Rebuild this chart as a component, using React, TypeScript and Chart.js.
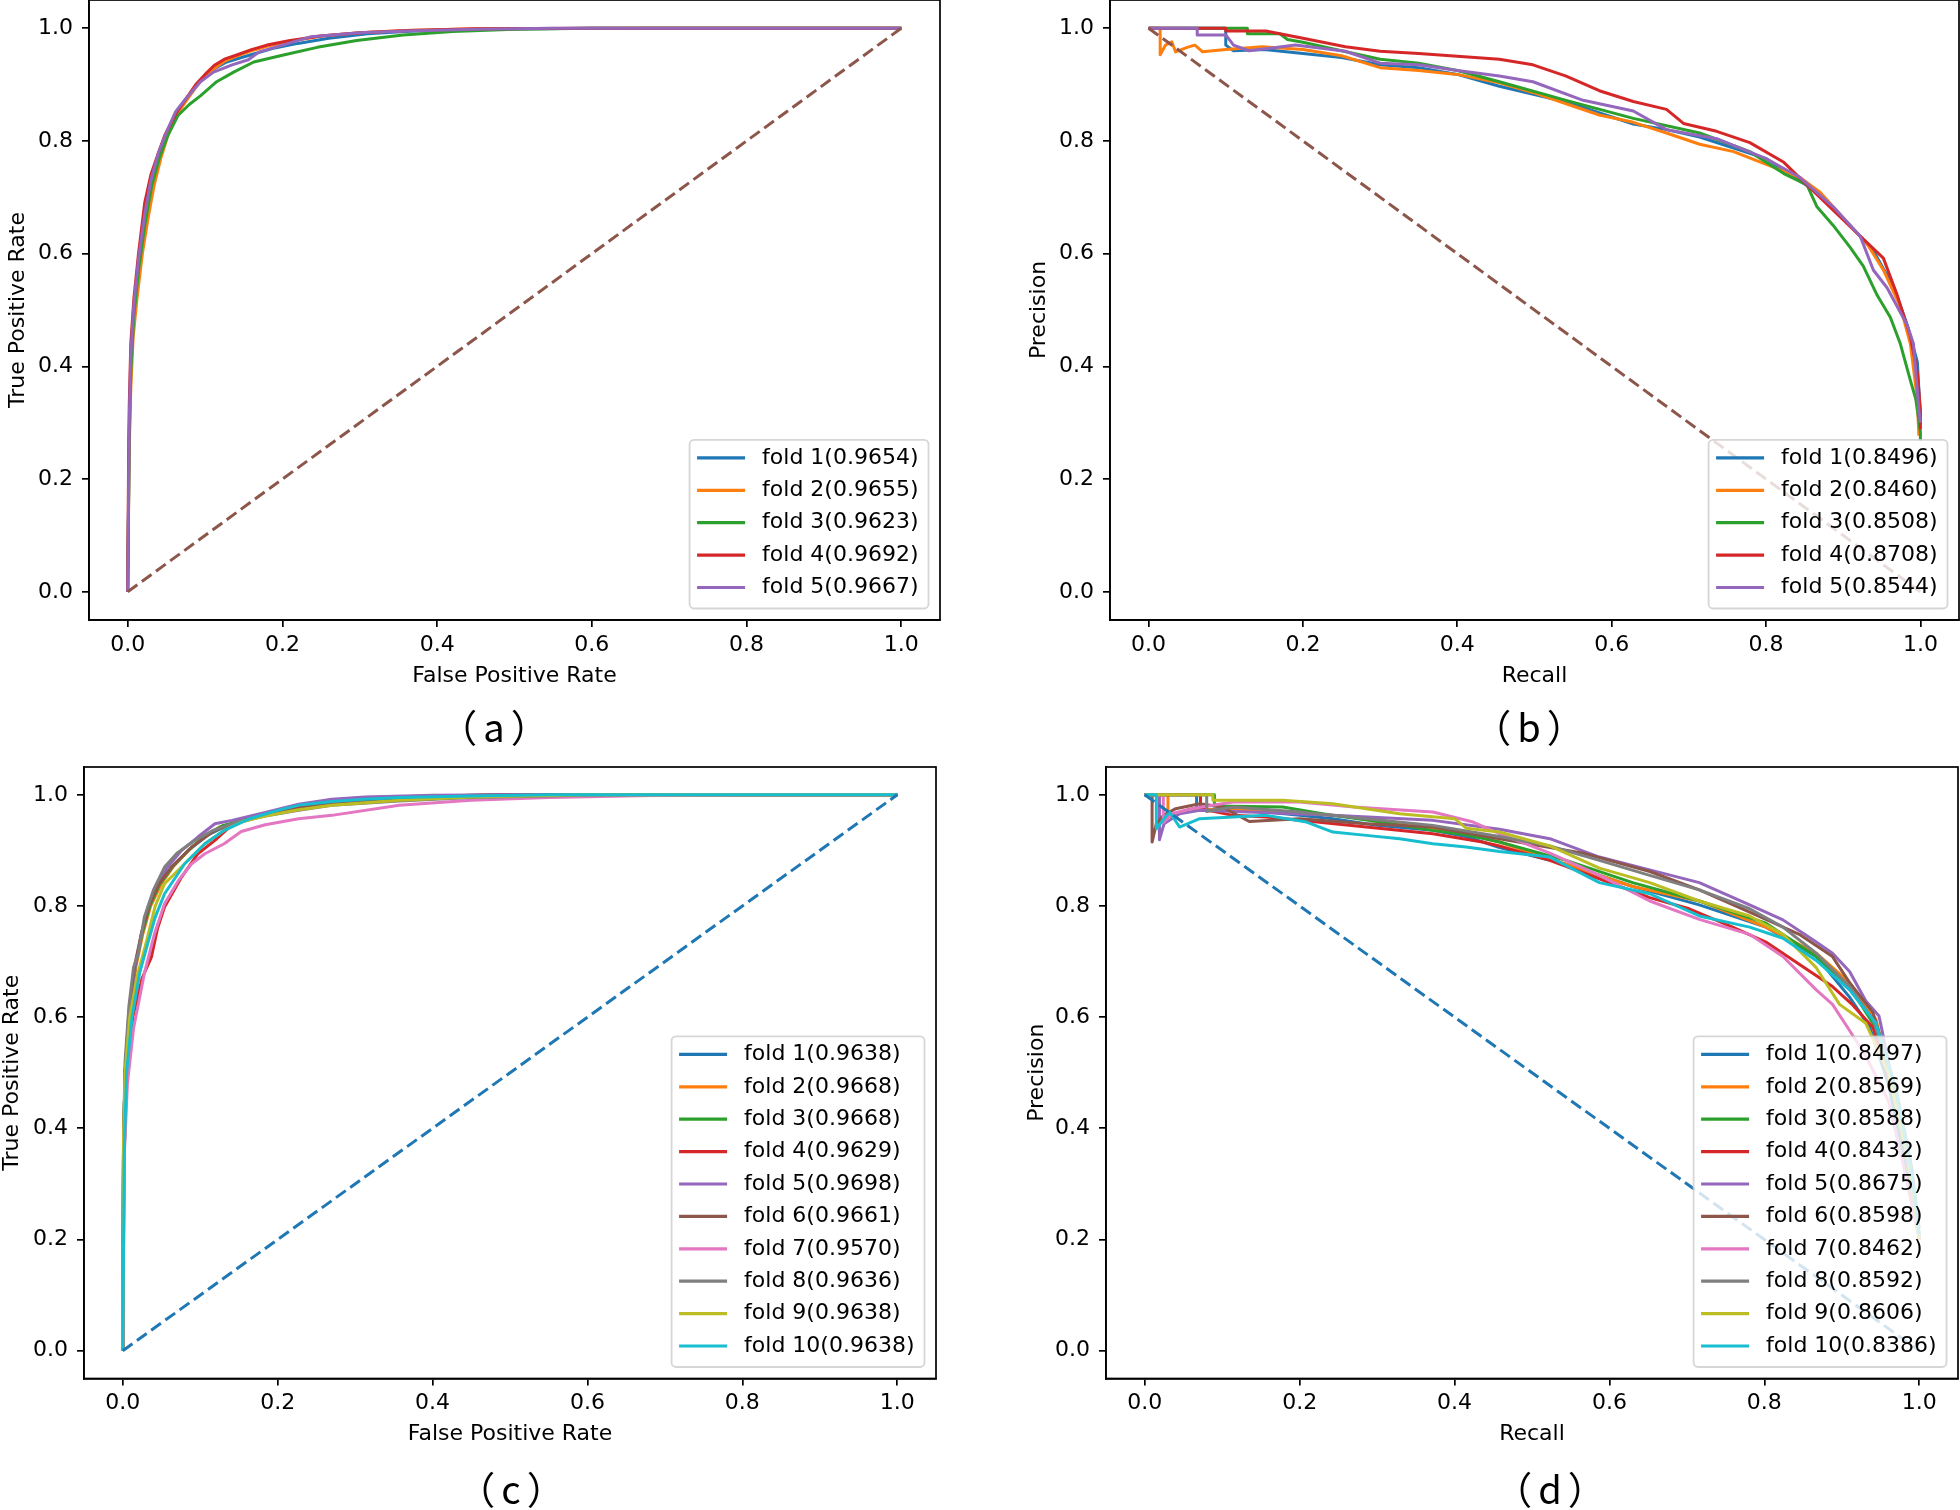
import React, { useEffect, useRef } from 'react';
import { Chart, registerables } from 'chart.js';

Chart.register(...registerables);

const TAB10 = ['#1f77b4', '#ff7f0e', '#2ca02c', '#d62728', '#9467bd', '#8c564b', '#e377c2', '#7f7f7f', '#bcbd22', '#17becf'];
const AXIS_TICKS = [0, 0.2, 0.4, 0.6, 0.8, 1.0];

// ---------- (a) ROC, 5 folds ----------
const labelsA = ['fold 1(0.9654)', 'fold 2(0.9655)', 'fold 3(0.9623)', 'fold 4(0.9692)', 'fold 5(0.9667)'];
const rocA1 = [[0,0],[0.002,0.28],[0.004,0.4],[0.008,0.5],[0.014,0.58],[0.021,0.66],[0.03,0.73],[0.04,0.775],[0.05,0.81],[0.063,0.848],[0.075,0.872],[0.088,0.896],[0.1,0.915],[0.112,0.928],[0.128,0.94],[0.145,0.947],[0.165,0.955],[0.19,0.965],[0.22,0.973],[0.26,0.982],[0.31,0.99],[0.37,0.995],[0.45,0.998],[0.6,1],[1,1]];
const rocA2 = [[0,0],[0.002,0.25],[0.004,0.36],[0.007,0.45],[0.012,0.52],[0.019,0.6],[0.026,0.66],[0.034,0.72],[0.043,0.77],[0.052,0.81],[0.064,0.848],[0.076,0.872],[0.088,0.895],[0.1,0.915],[0.113,0.93],[0.126,0.942],[0.14,0.95],[0.16,0.96],[0.18,0.968],[0.21,0.977],[0.25,0.986],[0.3,0.992],[0.36,0.996],[0.45,0.999],[0.66,1],[1,1]];
const rocA3 = [[0,0],[0.002,0.27],[0.004,0.39],[0.008,0.49],[0.014,0.57],[0.022,0.65],[0.031,0.72],[0.041,0.77],[0.052,0.81],[0.065,0.845],[0.08,0.865],[0.094,0.88],[0.115,0.905],[0.137,0.922],[0.163,0.94],[0.2,0.952],[0.245,0.966],[0.296,0.978],[0.356,0.988],[0.42,0.994],[0.5,0.998],[0.6,1],[1,1]];
const rocA4 = [[0,0],[0.001,0.2],[0.002,0.33],[0.004,0.44],[0.008,0.52],[0.014,0.6],[0.022,0.69],[0.03,0.74],[0.04,0.78],[0.048,0.81],[0.063,0.85],[0.075,0.874],[0.088,0.9],[0.1,0.918],[0.112,0.934],[0.125,0.945],[0.14,0.952],[0.16,0.962],[0.18,0.97],[0.21,0.978],[0.25,0.986],[0.3,0.992],[0.36,0.996],[0.45,0.999],[0.6,1],[1,1]];
const rocA5 = [[0,0],[0.002,0.3],[0.004,0.42],[0.008,0.51],[0.014,0.59],[0.022,0.67],[0.03,0.73],[0.04,0.78],[0.05,0.815],[0.062,0.852],[0.074,0.873],[0.094,0.905],[0.111,0.922],[0.135,0.935],[0.156,0.944],[0.17,0.958],[0.2,0.97],[0.237,0.985],[0.3,0.992],[0.36,0.995],[0.45,0.998],[0.55,1],[1,1]];

// ---------- (b) PR, 5 folds ----------
const labelsB = ['fold 1(0.8496)', 'fold 2(0.8460)', 'fold 3(0.8508)', 'fold 4(0.8708)', 'fold 5(0.8544)'];
const prB1 = [[0,1],[0.1,1],[0.1,0.97],[0.11,0.96],[0.15,0.962],[0.2,0.955],[0.25,0.948],[0.3,0.935],[0.35,0.93],[0.4,0.918],[0.4545,0.897],[0.541,0.869],[0.628,0.83],[0.671,0.82],[0.714,0.807],[0.801,0.768],[0.866,0.709],[0.909,0.65],[0.939,0.605],[0.966,0.539],[0.983,0.473],[0.996,0.408],[1.0,0.31],[1.0,0.3]];
const prB2 = [[0,1],[0.015,1],[0.015,0.953],[0.022,0.97],[0.03,0.976],[0.035,0.958],[0.05,0.966],[0.06,0.97],[0.07,0.958],[0.1,0.962],[0.147,0.967],[0.2,0.962],[0.25,0.951],[0.3,0.93],[0.35,0.925],[0.4,0.918],[0.4545,0.903],[0.498,0.886],[0.541,0.866],[0.584,0.846],[0.628,0.833],[0.671,0.814],[0.714,0.794],[0.758,0.781],[0.801,0.758],[0.844,0.735],[0.87,0.709],[0.909,0.65],[0.931,0.617],[0.952,0.571],[0.974,0.506],[0.987,0.44],[0.996,0.342],[0.998,0.277]];
const prB3 = [[0,1],[0.128,1],[0.128,0.99],[0.17,0.99],[0.18,0.98],[0.2,0.975],[0.25,0.96],[0.3,0.945],[0.35,0.938],[0.4,0.925],[0.4545,0.905],[0.541,0.872],[0.628,0.84],[0.714,0.814],[0.779,0.781],[0.823,0.742],[0.853,0.722],[0.866,0.683],[0.887,0.65],[0.909,0.611],[0.926,0.578],[0.944,0.526],[0.961,0.487],[0.974,0.44],[0.987,0.375],[0.994,0.342],[1.0,0.284],[1.0,0.27]];
const prB4 = [[0,1],[0.1,1],[0.1,0.995],[0.152,0.995],[0.17,0.99],[0.2,0.982],[0.255,0.967],[0.3,0.959],[0.35,0.955],[0.4,0.95],[0.4545,0.945],[0.498,0.935],[0.541,0.915],[0.584,0.889],[0.628,0.87],[0.671,0.856],[0.693,0.831],[0.736,0.817],[0.779,0.797],[0.823,0.762],[0.853,0.722],[0.887,0.677],[0.922,0.631],[0.952,0.592],[0.97,0.526],[0.987,0.454],[0.996,0.389],[1.0,0.323],[1.0,0.29]];
const prB5 = [[0,1],[0.063,1],[0.063,0.988],[0.1,0.988],[0.11,0.97],[0.13,0.96],[0.16,0.965],[0.19,0.97],[0.255,0.959],[0.3,0.938],[0.35,0.935],[0.4,0.925],[0.4545,0.915],[0.498,0.905],[0.563,0.872],[0.628,0.853],[0.671,0.82],[0.736,0.804],[0.801,0.768],[0.844,0.735],[0.887,0.683],[0.922,0.631],[0.939,0.571],[0.957,0.539],[0.983,0.473],[0.991,0.44],[0.998,0.323],[1.0,0.3]];

// ---------- (c) ROC, 10 folds ----------
const labelsC = ['fold 1(0.9638)', 'fold 2(0.9668)', 'fold 3(0.9668)', 'fold 4(0.9629)', 'fold 5(0.9698)', 'fold 6(0.9661)', 'fold 7(0.9570)', 'fold 8(0.9636)', 'fold 9(0.9638)', 'fold 10(0.9638)'];
const rocC1 = [[0,0],[0.001,0.37],[0.003,0.5],[0.008,0.6],[0.016,0.69],[0.025,0.75],[0.035,0.8],[0.048,0.84],[0.063,0.87],[0.085,0.9],[0.11,0.928],[0.14,0.948],[0.184,0.965],[0.227,0.978],[0.27,0.988],[0.313,0.994],[0.4,0.998],[0.5,1],[1,1]];
const rocC2 = [[0,0],[0.001,0.36],[0.003,0.5],[0.009,0.6],[0.017,0.69],[0.026,0.75],[0.036,0.8],[0.05,0.84],[0.066,0.872],[0.085,0.9],[0.105,0.925],[0.125,0.942],[0.15,0.952],[0.184,0.966],[0.227,0.98],[0.27,0.99],[0.313,0.995],[0.4,0.998],[0.5,1],[1,1]];
const rocC3 = [[0,0],[0.001,0.37],[0.003,0.5],[0.008,0.6],[0.016,0.69],[0.025,0.75],[0.035,0.8],[0.048,0.84],[0.064,0.87],[0.086,0.902],[0.108,0.928],[0.13,0.945],[0.16,0.955],[0.2,0.97],[0.25,0.985],[0.3,0.993],[0.4,0.998],[0.5,1],[1,1]];
const rocC4 = [[0,0],[0.002,0.36],[0.005,0.49],[0.013,0.6],[0.025,0.67],[0.037,0.708],[0.045,0.76],[0.054,0.798],[0.076,0.852],[0.097,0.894],[0.119,0.918],[0.141,0.946],[0.184,0.966],[0.227,0.978],[0.27,0.988],[0.313,0.994],[0.4,0.998],[0.5,1],[1,1]];
const rocC5 = [[0,0],[0.001,0.36],[0.003,0.5],[0.008,0.6],[0.016,0.69],[0.024,0.75],[0.033,0.8],[0.045,0.84],[0.058,0.87],[0.076,0.9],[0.097,0.924],[0.119,0.948],[0.141,0.954],[0.184,0.968],[0.227,0.983],[0.27,0.992],[0.313,0.996],[0.4,0.999],[0.5,1],[1,1]];
const rocC6 = [[0,0],[0.001,0.37],[0.003,0.5],[0.008,0.61],[0.015,0.69],[0.024,0.75],[0.034,0.8],[0.047,0.84],[0.063,0.87],[0.089,0.906],[0.119,0.936],[0.15,0.95],[0.184,0.963],[0.227,0.975],[0.27,0.984],[0.35,0.992],[0.45,0.997],[0.6,1],[1,1]];
const rocC7 = [[0,0],[0.002,0.35],[0.006,0.48],[0.014,0.58],[0.028,0.679],[0.041,0.75],[0.054,0.804],[0.072,0.846],[0.089,0.876],[0.106,0.894],[0.131,0.912],[0.153,0.934],[0.184,0.946],[0.227,0.957],[0.27,0.963],[0.357,0.981],[0.45,0.99],[0.55,0.995],[0.7,0.999],[0.8,1],[1,1]];
const rocC8 = [[0,0],[0.001,0.38],[0.003,0.52],[0.008,0.62],[0.014,0.69],[0.02,0.714],[0.028,0.78],[0.04,0.83],[0.054,0.87],[0.07,0.895],[0.09,0.915],[0.115,0.935],[0.15,0.952],[0.184,0.962],[0.227,0.972],[0.27,0.981],[0.357,0.989],[0.45,0.995],[0.6,0.999],[0.7,1],[1,1]];
const rocC9 = [[0,0],[0.001,0.38],[0.003,0.5],[0.009,0.6],[0.018,0.67],[0.031,0.738],[0.042,0.8],[0.054,0.84],[0.08,0.876],[0.106,0.912],[0.131,0.936],[0.155,0.952],[0.184,0.962],[0.227,0.973],[0.27,0.981],[0.357,0.99],[0.45,0.996],[0.6,1],[1,1]];
const rocC10 = [[0,0],[0.002,0.36],[0.005,0.5],[0.012,0.6],[0.022,0.68],[0.031,0.726],[0.042,0.78],[0.054,0.822],[0.08,0.876],[0.106,0.912],[0.131,0.936],[0.164,0.957],[0.2,0.972],[0.227,0.981],[0.27,0.988],[0.313,0.992],[0.357,0.995],[0.45,0.998],[0.55,1],[1,1]];

// ---------- (d) PR, 10 folds ----------
const labelsD = ['fold 1(0.8497)', 'fold 2(0.8569)', 'fold 3(0.8588)', 'fold 4(0.8432)', 'fold 5(0.8675)', 'fold 6(0.8598)', 'fold 7(0.8462)', 'fold 8(0.8592)', 'fold 9(0.8606)', 'fold 10(0.8386)'];
const prD1 = [[0,1],[0.067,1],[0.067,0.972],[0.1,0.975],[0.157,0.969],[0.2,0.963],[0.243,0.957],[0.3,0.945],[0.372,0.936],[0.415,0.925],[0.458,0.905],[0.544,0.875],[0.63,0.835],[0.716,0.802],[0.802,0.762],[0.867,0.709],[0.91,0.636],[0.936,0.582],[0.96,0.48],[0.98,0.35],[0.995,0.25],[1.0,0.2]];
const prD2 = [[0,1],[0.03,1],[0.03,0.96],[0.06,0.975],[0.1,0.972],[0.157,0.972],[0.243,0.963],[0.3,0.955],[0.372,0.939],[0.415,0.93],[0.458,0.915],[0.544,0.875],[0.63,0.835],[0.716,0.809],[0.802,0.762],[0.867,0.715],[0.91,0.662],[0.944,0.596],[0.965,0.48],[0.985,0.33],[1.0,0.2]];
const prD3 = [[0,1],[0.09,1],[0.09,0.98],[0.178,0.978],[0.243,0.963],[0.3,0.952],[0.372,0.936],[0.415,0.928],[0.458,0.915],[0.544,0.882],[0.63,0.842],[0.716,0.809],[0.802,0.769],[0.867,0.709],[0.91,0.655],[0.94,0.589],[0.965,0.47],[0.985,0.33],[1.0,0.21]];
const prD4 = [[0,1],[0.072,1],[0.072,0.975],[0.114,0.963],[0.157,0.96],[0.2,0.954],[0.286,0.942],[0.372,0.93],[0.436,0.915],[0.458,0.908],[0.523,0.882],[0.587,0.849],[0.652,0.815],[0.703,0.795],[0.759,0.762],[0.802,0.735],[0.845,0.695],[0.888,0.655],[0.914,0.622],[0.94,0.582],[0.97,0.45],[0.99,0.3],[1.0,0.2]];
const prD5 = [[0,1],[0.019,1],[0.019,0.919],[0.025,0.948],[0.045,0.966],[0.071,0.972],[0.135,0.969],[0.243,0.963],[0.372,0.954],[0.458,0.938],[0.523,0.921],[0.587,0.888],[0.652,0.865],[0.716,0.842],[0.781,0.802],[0.824,0.775],[0.867,0.735],[0.888,0.715],[0.91,0.682],[0.931,0.629],[0.948,0.602],[0.953,0.569],[0.97,0.45],[0.99,0.3],[1.0,0.2]];
const prD6 = [[0,1],[0.0095,1],[0.0095,0.915],[0.015,0.948],[0.024,0.963],[0.04,0.975],[0.071,0.984],[0.1,0.978],[0.135,0.952],[0.2,0.957],[0.286,0.948],[0.372,0.942],[0.458,0.921],[0.566,0.895],[0.652,0.862],[0.716,0.829],[0.781,0.789],[0.845,0.749],[0.888,0.709],[0.91,0.662],[0.94,0.609],[0.97,0.47],[0.99,0.33],[1.0,0.2]];
const prD7 = [[0,1],[0.024,1],[0.024,0.95],[0.035,0.966],[0.06,0.975],[0.114,0.987],[0.2,0.987],[0.27,0.978],[0.372,0.969],[0.424,0.951],[0.458,0.93],[0.523,0.895],[0.587,0.855],[0.652,0.809],[0.716,0.776],[0.781,0.749],[0.824,0.709],[0.867,0.649],[0.888,0.623],[0.91,0.576],[0.931,0.53],[0.96,0.45],[0.98,0.33],[1.0,0.2]];
const prD8 = [[0,1],[0.08,1],[0.08,0.97],[0.114,0.978],[0.2,0.969],[0.286,0.957],[0.372,0.945],[0.458,0.925],[0.523,0.908],[0.587,0.882],[0.652,0.855],[0.716,0.829],[0.781,0.795],[0.824,0.762],[0.867,0.715],[0.91,0.655],[0.94,0.596],[0.97,0.47],[0.99,0.33],[1.0,0.22]];
const prD9 = [[0,1],[0.088,1],[0.088,0.99],[0.178,0.99],[0.243,0.984],[0.329,0.966],[0.4,0.957],[0.415,0.94],[0.458,0.933],[0.523,0.908],[0.587,0.868],[0.652,0.842],[0.716,0.809],[0.781,0.782],[0.824,0.749],[0.867,0.689],[0.897,0.623],[0.931,0.589],[0.96,0.5],[0.985,0.35],[1.0,0.2]];
const prD10 = [[0,1],[0.015,1],[0.015,0.939],[0.032,0.969],[0.045,0.942],[0.071,0.957],[0.157,0.963],[0.209,0.951],[0.243,0.933],[0.286,0.927],[0.329,0.921],[0.372,0.912],[0.415,0.906],[0.458,0.898],[0.523,0.888],[0.587,0.842],[0.652,0.822],[0.716,0.782],[0.781,0.762],[0.824,0.742],[0.867,0.702],[0.91,0.649],[0.944,0.589],[0.97,0.47],[0.99,0.32],[1.0,0.21]];

const diagROC = [[0,0],[1,1]];
const diagPR = [[0,1],[1,0]];

const FONT = "'DejaVu Sans', 'Liberation Sans', sans-serif";

type Panel = {
  x: number; y: number; w: number; h: number;
  area: { l: number; t: number; r: number; b: number };
  yTitleX: number;
  xTitle: string; yTitle: string;
  curves: number[][][]; labels: string[];
  diag: number[][]; diagColor: string;
  caption: string; capX: number; capY: number;
};

const PANELS: Panel[] = [
  { x: 0, y: 0, w: 980, h: 760, area: { l: 89, t: 0, r: 940, b: 620 }, yTitleX: 18,
    xTitle: 'False Positive Rate', yTitle: 'True Positive Rate',
    curves: [rocA1, rocA2, rocA3, rocA4, rocA5], labels: labelsA, diag: diagROC, diagColor: TAB10[5],
    caption: '（a）', capX: 497, capY: 726 },
  { x: 980, y: 0, w: 980, h: 760, area: { l: 130, t: 0, r: 979, b: 620 }, yTitleX: 59.5,
    xTitle: 'Recall', yTitle: 'Precision',
    curves: [prB1, prB2, prB3, prB4, prB5], labels: labelsB, diag: diagPR, diagColor: TAB10[5],
    caption: '（b）', capX: 1532, capY: 726 },
  { x: 0, y: 760, w: 980, h: 750, area: { l: 84, t: 7, r: 936, b: 618.5 }, yTitleX: 12.5,
    xTitle: 'False Positive Rate', yTitle: 'True Positive Rate',
    curves: [rocC1, rocC2, rocC3, rocC4, rocC5, rocC6, rocC7, rocC8, rocC9, rocC10], labels: labelsC, diag: diagROC, diagColor: TAB10[0],
    caption: '（c）', capX: 514, capY: 1488 },
  { x: 980, y: 760, w: 980, h: 750, area: { l: 126, t: 7, r: 978, b: 618.5 }, yTitleX: 57,
    xTitle: 'Recall', yTitle: 'Precision',
    curves: [prD1, prD2, prD3, prD4, prD5, prD6, prD7, prD8, prD9, prD10], labels: labelsD, diag: diagPR, diagColor: TAB10[0],
    caption: '（d）', capX: 1553, capY: 1488 },
];

const X_AXIS_H = 67;

function PanelChart({ p }: { p: Panel }) {
  const ref = useRef<HTMLCanvasElement>(null);
  useEffect(() => {
    const canvas = ref.current!;
    const n = p.curves.length;
    const yLeft = p.yTitleX - 11;
    const decor = {
      id: 'decor',
      afterDatasetsDraw(chart: any) {
        const ctx = chart.ctx;
        const a = chart.chartArea;
        ctx.save();
        ctx.strokeStyle = '#000';
        ctx.lineWidth = 1.7;
        ctx.strokeRect(a.left, a.top, a.right - a.left, a.bottom - a.top);
        ctx.font = `22px ${FONT}`;
        const tw = Math.max(...p.labels.map((l) => ctx.measureText(l).width));
        const rowH = 32.4;
        const bw = 7.5 + 48 + 17 + tw + 10;
        const bh = 18 + (n - 1) * rowH + 21;
        const bx = a.right - 11.5 - bw;
        const by = a.bottom - 11.5 - bh;
        ctx.beginPath();
        ctx.roundRect(bx, by, bw, bh, 4.4);
        ctx.fillStyle = 'rgba(255,255,255,0.8)';
        ctx.fill();
        ctx.strokeStyle = 'rgba(204,204,204,0.8)';
        ctx.lineWidth = 1.8;
        ctx.stroke();
        p.labels.forEach((l, i) => {
          const cy = by + 18 + i * rowH;
          ctx.strokeStyle = TAB10[i];
          ctx.lineWidth = 3.2;
          ctx.beginPath();
          ctx.moveTo(bx + 7.5, cy);
          ctx.lineTo(bx + 55.5, cy);
          ctx.stroke();
          ctx.fillStyle = '#000';
          ctx.textBaseline = 'middle';
          ctx.textAlign = 'left';
          ctx.fillText(l, bx + 72.5, cy);
        });
        ctx.restore();
      },
    };
    const datasets: any[] = p.curves.map((c, i) => ({
      label: p.labels[i],
      data: c.map(([x, y]) => ({ x, y })),
      borderColor: TAB10[i],
      backgroundColor: TAB10[i],
      borderWidth: 3,
      borderJoinStyle: 'round',
      pointRadius: 0,
      showLine: true,
      fill: false,
      tension: 0,
      order: n - i + 1,
    }));
    datasets.push({
      label: 'chance',
      data: p.diag.map(([x, y]) => ({ x, y })),
      borderColor: p.diagColor,
      backgroundColor: p.diagColor,
      borderWidth: 3,
      borderDash: [12, 5.5],
      pointRadius: 0,
      showLine: true,
      fill: false,
      order: 0,
    });
    const axisCommon = (isX: boolean, title: string) => ({
      type: 'linear',
      min: -0.05,
      max: 1.05,
      afterBuildTicks: (s: any) => {
        s.ticks = AXIS_TICKS.map((v) => ({ value: v }));
      },
      afterFit: (s: any) => {
        if (isX) s.height = X_AXIS_H;
        else s.width = p.area.l - yLeft;
        s.paddingTop = 0; s.paddingBottom = 0; s.paddingLeft = 0; s.paddingRight = 0;
      },
      ticks: {
        callback: (v: any) => Number(v).toFixed(1),
        font: { family: FONT, size: 22 },
        color: '#000',
        padding: isX ? 5 : 9,
        maxRotation: 0,
        minRotation: 0,
        autoSkip: false,
      },
      grid: { drawOnChartArea: false, drawTicks: true, tickLength: 7, color: '#000', lineWidth: 1.7 },
      border: { display: true, color: '#000', width: 1.7 },
      title: { display: true, text: title, color: '#000', font: { family: FONT, size: 22, lineHeight: 1 }, padding: 0 },
    });
    const chart = new Chart(canvas, {
      type: 'scatter',
      data: { datasets },
      options: {
        responsive: false,
        animation: false,
        devicePixelRatio: 1,
        layout: { padding: { left: yLeft, top: p.area.t, right: p.w - p.area.r, bottom: p.h - p.area.b - X_AXIS_H } },
        plugins: { legend: { display: false }, tooltip: { enabled: false } },
        scales: { x: axisCommon(true, p.xTitle) as any, y: axisCommon(false, p.yTitle) as any },
      },
      plugins: [decor],
    });
    return () => chart.destroy();
  }, [p]);
  return (
    <canvas
      ref={ref}
      width={p.w}
      height={p.h}
      style={{ position: 'absolute', left: p.x, top: p.y, width: p.w, height: p.h }}
    />
  );
}

export default function App() {
  return (
    <div style={{ position: 'absolute', left: 0, top: 0, width: 1960, height: 1510, background: '#fff', overflow: 'hidden' }}>
      {PANELS.map((p, i) => (
        <PanelChart key={i} p={p} />
      ))}
      {PANELS.map((p, i) => (
        <div
          key={'c' + i}
          style={{
            position: 'absolute', left: p.capX, top: p.capY, transform: 'translate(-50%, -50%)',
            font: "38px 'Noto Sans CJK SC'", lineHeight: 1, letterSpacing: '6px', whiteSpace: 'nowrap', color: '#000',
            textSpacingTrim: 'space-all',
          } as any}
        >
          {p.caption}
        </div>
      ))}
    </div>
  );
}
